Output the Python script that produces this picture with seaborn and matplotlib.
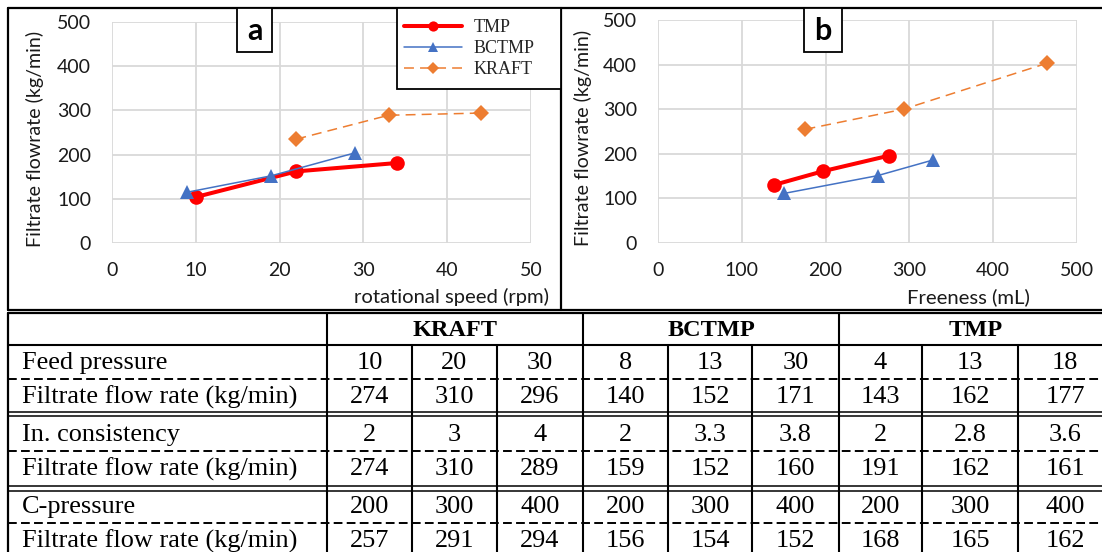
import numpy as np
import pandas as pd
import matplotlib
matplotlib.use("Agg")
import matplotlib.pyplot as plt
import seaborn as sns
from matplotlib.lines import Line2D
from matplotlib.patches import Rectangle

# ---------------- data ----------------
series_names = ["TMP", "BCTMP", "KRAFT"]

# (a) filtrate flow rate vs. rotational speed
speed_tmp = [10, 22, 34]
speed_flow_tmp = [104, 162, 181]
speed_bctmp = [9, 19, 29]
speed_flow_bctmp = [115, 152, 204]
speed_kraft = [22, 33, 44]
speed_flow_kraft = [235, 289, 294]

# (b) filtrate flow rate vs. freeness
freeness_tmp = [138, 197, 276]
freeness_flow_tmp = [130, 161, 196]
freeness_bctmp = [150, 262, 328]
freeness_flow_bctmp = [111, 151, 186]
freeness_kraft = [176, 293, 464]
freeness_flow_kraft = [255, 300, 403]

# table of operating variables
table_groups = ["KRAFT", "BCTMP", "TMP"]
row_labels = ["Feed pressure", "Filtrate flow rate (kg/min)",
              "In. consistency", "Filtrate flow rate (kg/min)",
              "C-pressure", "Filtrate flow rate (kg/min)"]
feed_pressure = ["10", "20", "30", "8", "13", "30", "4", "13", "18"]
feed_flow = ["274", "310", "296", "140", "152", "171", "143", "162", "177"]
consistency = ["2", "3", "4", "2", "3.3", "3.8", "2", "2.8", "3.6"]
consistency_flow = ["274", "310", "289", "159", "152", "160", "191", "162", "161"]
c_pressure = ["200", "300", "400", "200", "300", "400", "200", "300", "400"]
c_pressure_flow = ["257", "291", "294", "156", "154", "152", "168", "165", "162"]

# ---------------- style ----------------
sns.set_theme(style="white")
plt.rcParams["font.family"] = ["Lato", "DejaVu Sans"]

styles = {
    "TMP": dict(color="#ff0000", lw=2.9, marker="o", ms=10.5, ls="-"),
    "BCTMP": dict(color="#4472c4", lw=1.1, marker="^", ms=10, ls="-"),
    "KRAFT": dict(color="#ed7d31", lw=1.1, marker="D", ms=8.5, ls=(0, (6.5, 4))),
}

W, H = 1102, 552
fig = plt.figure(figsize=(W / 100, H / 100), dpi=100)


def px_axes(x0, y0, x1, y1):
    return fig.add_axes([x0 / W, 1 - y1 / H, (x1 - x0) / W, (y1 - y0) / H])


def draw_panel(ax, data, xmax, xstep, xlabel, xlab_pos):
    for name, (xs, ys) in zip(series_names, data):
        st = styles[name]
        df = pd.DataFrame({"x": xs, "y": ys})
        sns.lineplot(data=df, x="x", y="y", ax=ax, sort=False, color=st["color"],
                     linewidth=st["lw"], linestyle=st["ls"], marker=st["marker"],
                     markersize=st["ms"], markeredgewidth=0, legend=False,
                     clip_on=False, zorder=3)
    ax.set_xlim(0, xmax)
    ax.set_ylim(0, 500)
    ax.set_xticks(np.arange(0, xmax + 1, xstep))
    ax.set_yticks(np.arange(0, 501, 100))
    ax.grid(True, color="#d9d9d9", lw=1.3)
    ax.set_axisbelow(True)
    for s in ax.spines.values():
        s.set_visible(False)
    ax.tick_params(length=0, labelsize=14, colors="#1a1a1a")
    ax.tick_params(axis="x", pad=14)
    ax.tick_params(axis="y", pad=15)
    ax.set_xlabel(xlabel, fontsize=14.6, color="#1a1a1a")
    ax.xaxis.set_label_coords(xlab_pos, -0.245)
    ax.xaxis.label.set_va("center")
    ax.set_ylabel("Filtrate flowrate (kg/min)", fontsize=14.1, color="#1a1a1a")
    ax.yaxis.set_label_coords(-0.184, 0.47)
    ax.yaxis.label.set_va("center")


ax_a = px_axes(112, 22, 531, 243)
draw_panel(ax_a, [(speed_tmp, speed_flow_tmp), (speed_bctmp, speed_flow_bctmp),
                  (speed_kraft, speed_flow_kraft)], 50, 10,
           "rotational speed (rpm)", 0.81)

ax_b = px_axes(658, 20, 1077, 243)
draw_panel(ax_b, [(freeness_tmp, freeness_flow_tmp), (freeness_bctmp, freeness_flow_bctmp),
                  (freeness_kraft, freeness_flow_kraft)], 500, 100,
           "Freeness (mL)", 0.74)
ax_b.yaxis.set_label_coords(-0.179, 0.47)

# ---------------- frame, labels, legend, table (pixel overlay) ----------------
ov = fig.add_axes([0, 0, 1, 1], zorder=10)
ov.set_xlim(0, W)
ov.set_ylim(H, 0)
ov.axis("off")
ov.patch.set_alpha(0)

K = "black"
# outer frame of the chart area
ov.plot([8, 8], [8, 310], color=K, lw=1.6)
ov.plot([8, 1110], [8, 8], color=K, lw=1.6)
ov.plot([561, 561], [8, 310], color=K, lw=1.6)
ov.plot([8, 1110], [309.5, 309.5], color=K, lw=1.6)

# panel tags
for tag, (x0, x1) in zip(["a", "b"], [(237, 272), (804, 842)]):
    ov.add_patch(Rectangle((x0, 8), x1 - x0, 44, facecolor="white",
                           edgecolor=K, lw=1.3, zorder=5))
    ov.text((x0 + x1) / 2, 31, tag, ha="center", va="center", fontsize=22,
            fontweight="bold", color=K, zorder=6)

# legend
ov.add_patch(Rectangle((397, 8), 164, 81, facecolor="white", edgecolor=K, lw=1.3, zorder=5))
handles = []
for name in series_names:
    st = styles[name]
    handles.append(Line2D([], [], color=st["color"], lw=st["lw"], ls=st["ls"],
                          marker=st["marker"], ms=st["ms"] * 0.7, markeredgewidth=0))
leg = ov.legend(handles, series_names, loc="upper left", bbox_to_anchor=(404, 19),
                bbox_transform=ov.transData, frameon=False, borderpad=0,
                borderaxespad=0, handlelength=3.2, handletextpad=0.65,
                labelspacing=0.22, prop={"family": "Liberation Serif", "size": 13})
leg.set_zorder(7)

# table grid
col_x = [8, 327, 412, 497, 583, 668, 752, 839, 922, 1018, 1112]
row_centers = [363, 397, 435, 469, 507, 541]
serif = "Liberation Serif"

ov.plot([8, 1112], [312.5, 312.5], color=K, lw=1.6)
ov.plot([8, 1112], [345, 345], color=K, lw=1.5)
for y in [379, 451, 523]:
    ov.plot([8, 1112], [y, y], color=K, lw=1.4, ls=(0, (4.5, 2.2)))
for y in [411.5, 416, 486, 490.5]:
    ov.plot([8, 1112], [y, y], color=K, lw=1.1)
# verticals
ov.plot([8, 8], [312.5, 557], color=K, lw=1.6)
for x in [327, 583, 839]:
    ov.plot([x, x], [312.5, 557], color=K, lw=1.5)
for x in [412, 497, 668, 752, 922, 1018]:
    ov.plot([x, x], [345, 557], color=K, lw=1.5)

# header
for i, g in enumerate(table_groups):
    cx = (col_x[1 + 3 * i] + col_x[4 + 3 * i]) / 2
    ov.text(cx, 330, g, ha="center", va="center", fontsize=17.5, fontweight="bold",
            family=serif, color=K)

rows = [feed_pressure, feed_flow, consistency, consistency_flow, c_pressure, c_pressure_flow]
for label, vals, yc in zip(row_labels, rows, row_centers):
    ov.text(22, yc, label, ha="left", va="center", fontsize=18.9, family=serif, color=K)
    for j, v in enumerate(vals):
        cx = (col_x[1 + j] + col_x[2 + j]) / 2
        ov.text(cx, yc, v, ha="center", va="center", fontsize=18.9, family=serif, color=K)

fig.savefig("out.png", dpi=100, facecolor="white")
